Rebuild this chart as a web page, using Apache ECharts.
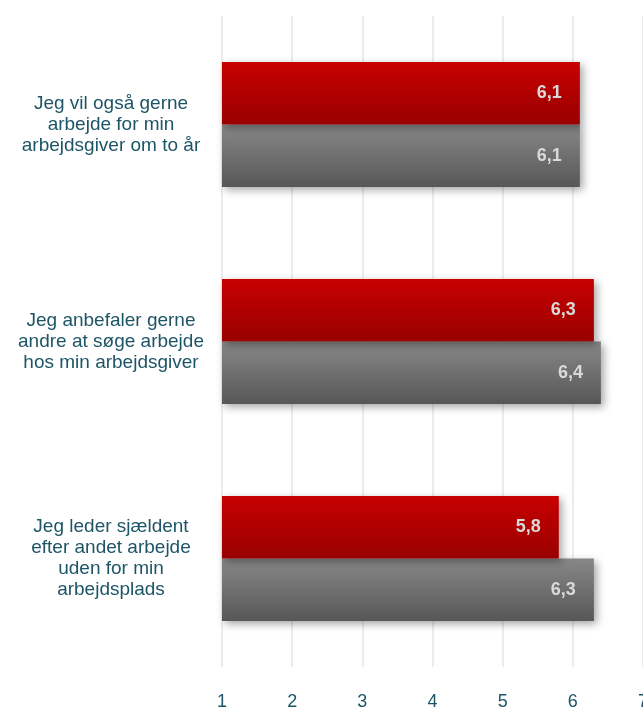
<!DOCTYPE html>
<html>
<head>
<meta charset="utf-8">
<script src="https://cdn.jsdelivr.net/npm/echarts@6/dist/echarts.min.js"></script>
<style>
html,body{margin:0;padding:0;background:#fff;}
#main{width:643px;height:709px;}
</style>
</head>
<body>
<div id="main"></div>
<script>
const categories = [
  "Jeg vil også gerne\narbejde for min\narbejdsgiver om to år",
  "Jeg anbefaler gerne\nandre at søge arbejde\nhos min arbejdsgiver",
  "Jeg leder sjældent\nefter andet arbejde\nuden for min\narbejdsplads"
];
const redValues = [6.1, 6.3, 5.8];
const grayValues = [6.1, 6.4, 6.3];
const xTicks = [1, 2, 3, 4, 5, 6, 7];

const chart = echarts.init(document.getElementById('main'), null, {renderer: 'canvas'});
const fontFam = '"Liberation Sans", Arial, sans-serif';
const labelCfg = {
  show: true,
  position: 'insideRight',
  distance: 18,
  color: '#d9d9d9',
  fontWeight: 'bold',
  fontSize: 18,
  fontFamily: fontFam,
  formatter: p => String(p.value).replace('.', ',')
};
const shadow = {shadowBlur: 8, shadowColor: 'rgba(0,0,0,0.35)', shadowOffsetX: 3, shadowOffsetY: 3};
chart.setOption({
  animation: false,
  grid: {left: 222, right: 0, top: 16, bottom: 42, containLabel: false, outerBoundsMode: 'none'},
  xAxis: {
    type: 'value', min: xTicks[0], max: xTicks[xTicks.length - 1], interval: 1,
    axisLine: {show: false}, axisTick: {show: false},
    splitLine: {show: true, lineStyle: {color: '#ececec', width: 2}},
    axisLabel: {color: '#1d5566', fontSize: 18, fontFamily: fontFam, margin: 26, showMaxLabel: true, hideOverlap: false}
  },
  yAxis: {
    type: 'category', data: categories, inverse: true,
    axisLine: {show: false}, axisTick: {show: false},
    axisLabel: {color: '#1d5566', fontSize: 19, fontFamily: fontFam, align: 'center', margin: 111, lineHeight: 21}
  },
  series: [
    {
      type: 'bar', data: redValues, barWidth: 62.5, barGap: '0%',
      itemStyle: Object.assign({
        color: new echarts.graphic.LinearGradient(0, 0, 0, 1, [
          {offset: 0, color: '#c80000'}, {offset: 1, color: '#980000'}
        ])
      }, shadow),
      label: labelCfg, z: 3
    },
    {
      type: 'bar', data: grayValues, barWidth: 62.5, barGap: '0%',
      itemStyle: Object.assign({
        color: new echarts.graphic.LinearGradient(0, 0, 0, 1, [
          {offset: 0, color: '#888888'}, {offset: 1, color: '#575757'}
        ])
      }, shadow),
      label: labelCfg, z: 2
    }
  ]
});
</script>
</body>
</html>
